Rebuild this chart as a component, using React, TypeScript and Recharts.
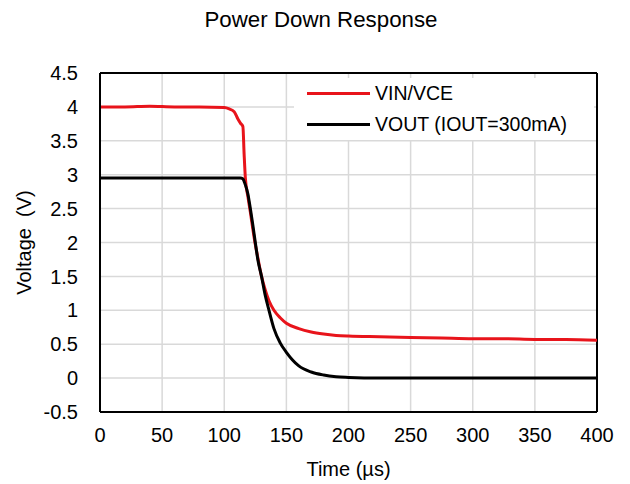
import { LineChart, Line, XAxis, YAxis, CartesianGrid, ReferenceLine, Label } from 'recharts'

const times = [0, 20, 40, 60, 80, 100, 104, 108, 111, 113, 115, 116, 117, 119, 121, 123, 125, 127, 130, 133, 136, 140, 145, 150, 160, 170, 180, 190, 200, 225, 250, 275, 300, 325, 350, 375, 400]
const vinVce = [4.0, 4.0, 4.01, 4.0, 4.0, 3.99, 3.97, 3.93, 3.82, 3.76, 3.71, 3.3, 2.95, 2.68, 2.45, 2.2, 1.97, 1.78, 1.5, 1.3, 1.14, 1.0, 0.89, 0.81, 0.73, 0.68, 0.65, 0.63, 0.62, 0.61, 0.6, 0.59, 0.58, 0.58, 0.57, 0.57, 0.56]
const vout = [2.95, 2.95, 2.95, 2.95, 2.95, 2.95, 2.95, 2.95, 2.95, 2.95, 2.94, 2.9, 2.85, 2.72, 2.5, 2.26, 2.0, 1.75, 1.5, 1.22, 1.0, 0.73, 0.52, 0.38, 0.18, 0.09, 0.045, 0.02, 0.01, 0, 0, 0, 0, 0, 0, 0, 0]
const xTicks = [0, 50, 100, 150, 200, 250, 300, 350, 400]
const yTicks = [-0.5, 0, 0.5, 1, 1.5, 2, 2.5, 3, 3.5, 4, 4.5]
const series = [
  { key: 'vin', label: 'VIN/VCE', color: '#e8141b' },
  { key: 'vout', label: 'VOUT (IOUT=300mA)', color: '#000000' },
]

const data = times.map((t, i) => ({ t, vin: vinVce[i], vout: vout[i] }))

const FONT = '"Liberation Sans", Arial, sans-serif'
const tickStyle = { fill: '#000', fontSize: 20, fontFamily: FONT }

export default function App() {
  return (
    <div style={{ position: 'absolute', left: 0, top: 0, width: 630, height: 484, background: '#fff', fontFamily: FONT }}>
      <div style={{ position: 'absolute', top: 7, left: 6, width: 630, textAlign: 'center', fontSize: 22.3, color: '#000' }}>
        Power Down Response
      </div>
      <LineChart width={630} height={484} data={data} margin={{ top: 73, right: 33, bottom: 42, left: 40 }}>
        <CartesianGrid stroke="#d9d9d9" strokeWidth={1.5} />
        <XAxis
          dataKey="t"
          type="number"
          domain={[0, 400]}
          ticks={xTicks}
          tickLine={false}
          axisLine={{ stroke: '#000', strokeWidth: 2 }}
          tick={tickStyle}
          tickMargin={10}
          height={30}
        >
          <Label value="Time (µs)" position="insideBottom" offset={-34} style={{ fill: '#000', fontSize: 20, fontFamily: FONT }} />
        </XAxis>
        <YAxis
          type="number"
          domain={[-0.5, 4.5]}
          ticks={yTicks}
          tickLine={false}
          axisLine={{ stroke: '#000', strokeWidth: 2 }}
          tick={tickStyle}
          tickMargin={16}
          width={60}
        >
          <Label value={'Voltage\u00a0\u00a0(V)'} angle={-90} position="insideLeft" offset={-16} style={{ fill: '#000', fontSize: 20, fontFamily: FONT, textAnchor: 'middle' }} />
        </YAxis>
        <ReferenceLine y={4.5} stroke="#000" strokeWidth={2} />
        <ReferenceLine x={400} stroke="#000" strokeWidth={2} />
        {series.map((s) => (
          <Line key={s.key} type="monotone" dataKey={s.key} name={s.label} stroke={s.color} strokeWidth={3} dot={false} isAnimationActive={false} />
        ))}
      </LineChart>
      <div style={{ position: 'absolute', left: 294, top: 78, width: 300, height: 62, background: '#fff', fontSize: 19.5, color: '#000' }}>
        {series.map((s) => (
          <div key={s.key} style={{ display: 'flex', alignItems: 'center', height: 31, paddingLeft: 13 }}>
            <div style={{ width: 63, height: 3, background: s.color, marginRight: 5 }} />
            <span>{s.label}</span>
          </div>
        ))}
      </div>
    </div>
  )
}
